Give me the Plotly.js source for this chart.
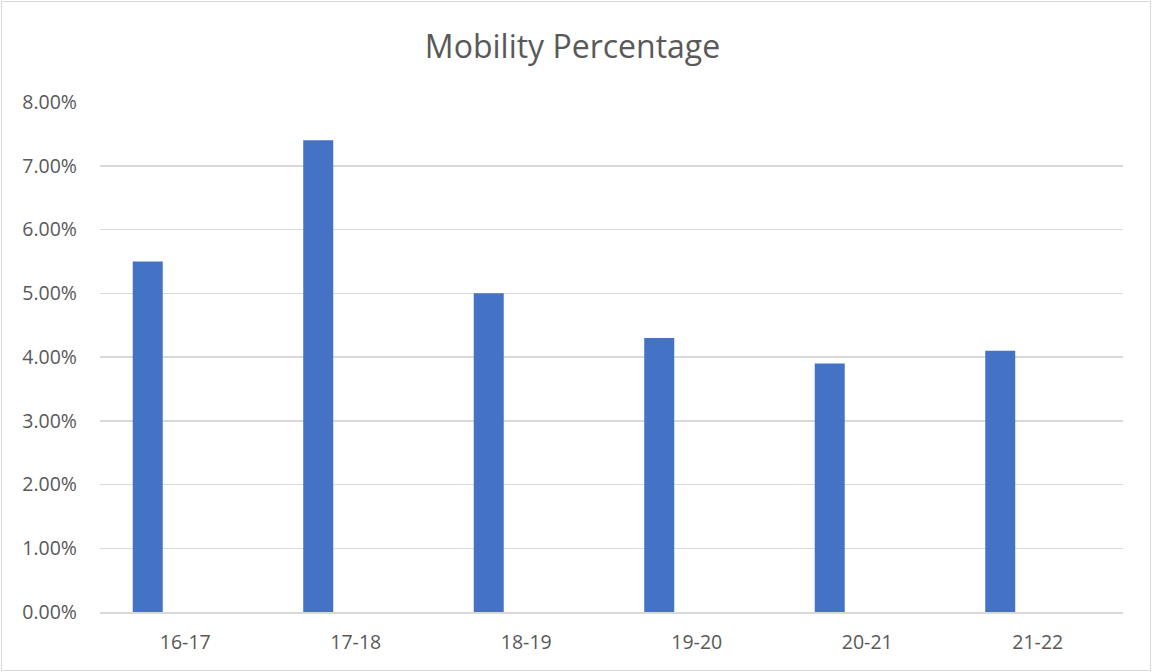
<!DOCTYPE html>
<html>
<head>
<meta charset="utf-8">
<script src="https://cdn.plot.ly/plotly-3.0.1.min.js"></script>
<style>
  html, body { margin: 0; padding: 0; background: #ffffff; }
  #chart { position: absolute; left: 0; top: 0; width: 1152px; height: 672px; }
  #frame { position: absolute; left: 1px; top: 1px; width: 1150px; height: 670px; box-sizing: border-box; border: 1px solid #d9d9d9; pointer-events: none; }
</style>
</head>
<body>
<div id="chart"></div>
<div id="frame"></div>
<script>
const categories = ["16-17", "17-18", "18-19", "19-20", "20-21", "21-22"];
const mobility = [0.055, 0.074, 0.050, 0.043, 0.039, 0.041];
const yTicks = [0, 0.01, 0.02, 0.03, 0.04, 0.05, 0.06, 0.07, 0.08];
const yTickLabels = ["0.00%", "1.00%", "2.00%", "3.00%", "4.00%", "5.00%", "6.00%", "7.00%", "8.00%"];

const font = "'Open Sans', 'Liberation Sans', sans-serif";

const trace = {
  type: "bar",
  x: categories,
  y: mobility,
  width: 0.176,
  offset: -0.308,
  marker: { color: "#4472c4", line: { width: 0 } },
  hoverinfo: "x+y"
};

const layout = {
  width: 1152,
  height: 672,
  margin: { l: 100, r: 29, t: 102, b: 60, pad: 0 },
  paper_bgcolor: "#ffffff",
  plot_bgcolor: "#ffffff",
  showlegend: false,
  title: {
    text: "Mobility Percentage",
    font: { family: font, size: 32, color: "#595959" },
    x: 0.497, xref: "container", xanchor: "center",
    y: 0.93, yref: "container", yanchor: "middle"
  },
  xaxis: {
    type: "category",
    showgrid: false,
    showline: true,
    linecolor: "#d9d9d9",
    linewidth: 1.5,
    ticks: "",
    ticklabelstandoff: 12,
    tickfont: { family: font, size: 19.5, color: "#595959" },
    zeroline: false
  },
  yaxis: {
    range: [0, 0.08],
    tickvals: yTicks,
    ticktext: yTickLabels,
    showgrid: true,
    gridcolor: "#d9d9d9",
    gridwidth: 1.5,
    zeroline: false,
    showline: false,
    ticks: "",
    ticklabelstandoff: 22,
    tickfont: { family: font, size: 19.5, color: "#595959" }
  }
};

Plotly.newPlot("chart", [trace], layout, { displayModeBar: false, staticPlot: true });
</script>
</body>
</html>
